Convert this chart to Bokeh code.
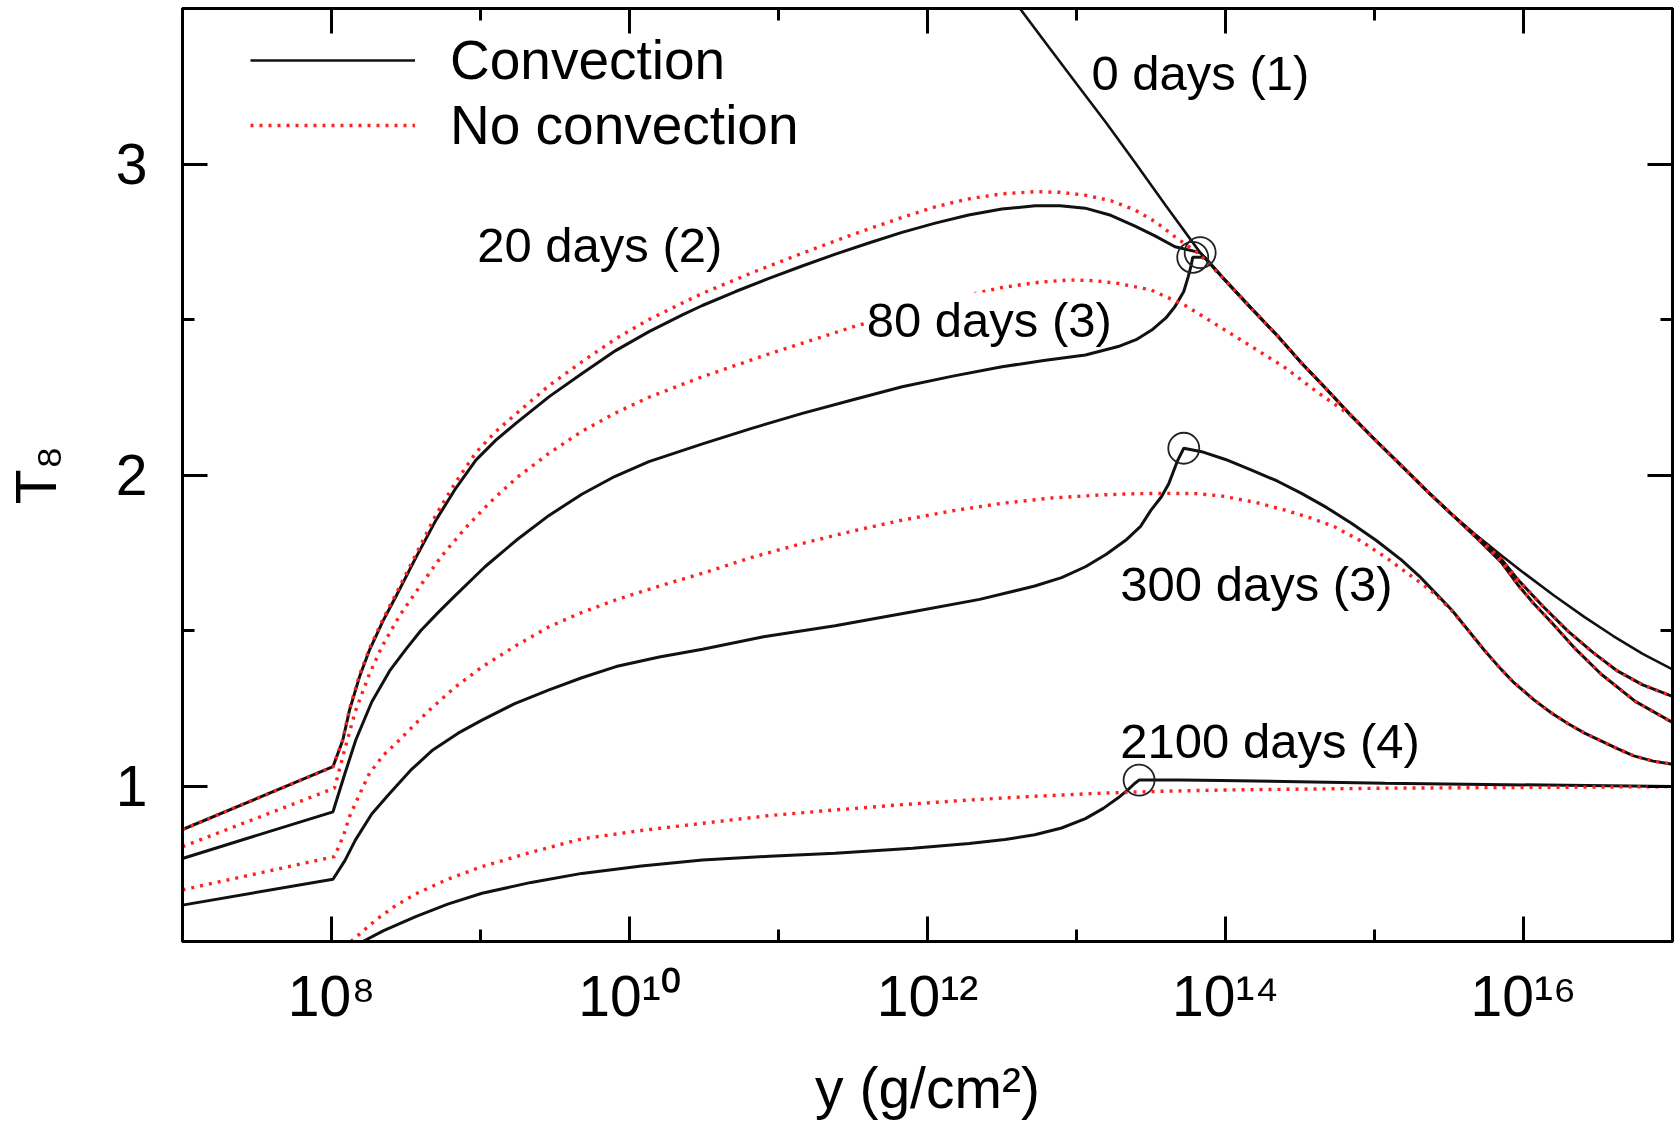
import numpy as np
from bokeh.plotting import figure
from bokeh.models import LogAxis, LinearAxis, FixedTicker, Label, Legend, LegendItem
from bokeh.embed import file_html
from bokeh.resources import INLINE

FONT = "Liberation Sans"

# ---- data: log10(y [g/cm^2]) and T8 ----
# shared high-column-depth branch (0, 20 and 80 days merge onto it)
lg_bundle = [14.00, 14.175, 14.35, 14.51, 14.68, 14.845, 15.01, 15.18, 15.36, 15.515]
T_bundle = [2.625, 2.535, 2.447, 2.36, 2.275, 2.19, 2.11, 2.03, 1.945, 1.875]

lg_c0 = [12.62, 12.80, 13.00, 13.20, 13.40, 13.60, 13.83] + lg_bundle + [15.68, 15.85, 16.00, 16.20, 16.41, 16.60, 16.80, 17.0]
T_c0 = [3.50, 3.385, 3.258, 3.132, 3.00, 2.866, 2.715] + T_bundle + [1.808, 1.742, 1.686, 1.614, 1.543, 1.483, 1.425, 1.375]

lg_tail20 = [15.68, 15.85, 15.96, 16.13, 16.30, 16.47, 16.63, 16.80, 17.0]
T_tail20 = [1.805, 1.73, 1.665, 1.578, 1.497, 1.428, 1.37, 1.325, 1.288]
lg_tail80 = [15.68, 15.85, 15.96, 16.07, 16.19, 16.35, 16.52, 16.75, 17.0]
T_tail80 = [1.80, 1.72, 1.648, 1.586, 1.525, 1.44, 1.36, 1.272, 1.204]

lg_c20 = ([7.0, 8.01, 8.076, 8.121, 8.188, 8.255, 8.345, 8.433, 8.567, 8.701, 8.835, 8.969, 9.103, 9.237,
           9.461, 9.684, 9.907, 10.131, 10.355, 10.489, 10.712, 10.936, 11.159, 11.382, 11.606, 11.829,
           12.052, 12.276, 12.499, 12.723, 12.89, 13.058, 13.23, 13.393, 13.53, 13.661, 13.83]
          + lg_bundle + lg_tail20)
T_c20 = ([0.86, 1.062, 1.148, 1.244, 1.351, 1.437, 1.53, 1.61, 1.735, 1.855, 1.958, 2.048, 2.112, 2.166,
          2.252, 2.327, 2.40, 2.461, 2.515, 2.545, 2.59, 2.632, 2.672, 2.71, 2.746, 2.78,
          2.81, 2.836, 2.855, 2.866, 2.866, 2.858, 2.835, 2.80, 2.768, 2.734, 2.715]
         + T_bundle + T_tail20)

lg_n20 = ([7.0, 8.01, 8.076, 8.121, 8.188, 8.255, 8.345, 8.433, 8.567, 8.701, 8.835, 8.969, 9.103, 9.237,
           9.461, 9.684, 9.907, 10.131, 10.355, 10.489, 10.82, 11.159, 11.49, 11.829, 12.05, 12.276,
           12.50, 12.723, 12.89, 13.058, 13.23, 13.393, 13.53, 13.661, 13.82]
          + lg_bundle + lg_tail20)
T_n20 = ([0.86, 1.062, 1.15, 1.248, 1.356, 1.442, 1.536, 1.618, 1.745, 1.872, 1.978, 2.072, 2.14, 2.196,
          2.288, 2.365, 2.438, 2.50, 2.553, 2.584, 2.65, 2.713, 2.772, 2.828, 2.862, 2.888,
          2.904, 2.911, 2.909, 2.90, 2.882, 2.852, 2.814, 2.766, 2.712]
         + T_bundle + T_tail20)

lg_c80 = ([7.0, 8.01, 8.09, 8.163, 8.27, 8.39, 8.50, 8.60, 8.72, 8.83, 9.03, 9.24, 9.46, 9.68, 9.90,
           10.13, 10.49, 10.82, 11.16, 11.5, 11.83, 12.17, 12.5, 12.78, 13.06, 13.28, 13.40, 13.505,
           13.60, 13.66, 13.72, 13.75, 13.77, 13.78, 13.86]
          + lg_bundle + lg_tail80)
T_c80 = ([0.767, 0.917, 1.04, 1.148, 1.27, 1.37, 1.44, 1.50, 1.56, 1.612, 1.705, 1.79, 1.87, 1.938, 1.995,
          2.043, 2.10, 2.15, 2.198, 2.242, 2.284, 2.318, 2.348, 2.368, 2.386, 2.413, 2.435, 2.466,
          2.505, 2.541, 2.59, 2.638, 2.675, 2.70, 2.70]
         + T_bundle + T_tail80)

lg_n80 = ([7.0, 8.02, 8.09, 8.16, 8.25, 8.34, 8.46, 8.59, 8.74, 8.90, 9.07, 9.24, 9.46, 9.68, 9.90, 10.13,
           10.49, 10.94, 11.2, 11.505, 11.85, 12.22, 12.5, 12.75, 12.95, 13.12, 13.28, 13.50, 13.73,
           13.95, 14.175, 14.40, 14.62, 14.845, 15.01, 15.18, 15.36, 15.515] + lg_tail80)
T_n80 = ([0.805, 0.993, 1.12, 1.24, 1.355, 1.45, 1.55, 1.64, 1.74, 1.83, 1.915, 1.99, 2.07, 2.14, 2.198, 2.25,
          2.316, 2.39, 2.43, 2.477, 2.525, 2.573, 2.603, 2.62, 2.627, 2.625, 2.616, 2.595, 2.545,
          2.48, 2.413, 2.345, 2.265, 2.19, 2.11, 2.03, 1.945, 1.875] + T_tail80)

lg_c300 = [7.0, 8.01, 8.09, 8.16, 8.27, 8.39, 8.53, 8.68, 8.85, 9.01, 9.23, 9.46, 9.68, 9.91, 10.2, 10.49,
           10.9, 11.38, 11.9, 12.35, 12.72, 12.9, 13.06, 13.2, 13.33, 13.43, 13.50, 13.57, 13.62, 13.68,
           13.72, 13.84, 14.0, 14.175, 14.35, 14.51, 14.68, 14.845, 15.01, 15.18, 15.30, 15.40, 15.52,
           15.63, 15.74, 15.85, 15.93, 16.07, 16.19, 16.30, 16.41, 16.52, 16.63, 16.74, 16.87, 17.0]
T_c300 = [0.617, 0.70, 0.76, 0.826, 0.91, 0.976, 1.05, 1.116, 1.17, 1.212, 1.265, 1.309, 1.348, 1.384, 1.415,
          1.44, 1.48, 1.515, 1.56, 1.60, 1.643, 1.67, 1.705, 1.745, 1.79, 1.835, 1.887, 1.93, 1.973, 2.048,
          2.086, 2.075, 2.05, 2.016, 1.98, 1.941, 1.895, 1.845, 1.79, 1.727, 1.675, 1.625, 1.565,
          1.50, 1.435, 1.375, 1.335, 1.277, 1.234, 1.20, 1.17, 1.145, 1.12, 1.097, 1.08, 1.07]

lg_n300 = [7.0, 8.02, 8.08, 8.12, 8.19, 8.255, 8.35, 8.456, 8.557, 8.657, 8.83, 9.014, 9.24, 9.46, 9.68,
           9.906, 10.2, 10.49, 10.82, 11.16, 11.5, 11.83, 12.17, 12.5, 12.83, 13.17, 13.4, 13.62, 13.8,
           13.97, 14.2, 14.40, 14.57, 14.73, 14.90, 15.07, 15.19, 15.29, 15.40, 15.52,
           15.63, 15.74, 15.85, 15.93, 16.07, 16.19, 16.30, 16.41, 16.52, 16.63, 16.74, 16.87, 17.0]
T_n300 = [0.666, 0.773, 0.84, 0.901, 0.975, 1.041, 1.10, 1.148, 1.197, 1.244, 1.318, 1.384, 1.452, 1.512,
          1.558, 1.598, 1.643, 1.684, 1.735, 1.78, 1.82, 1.855, 1.885, 1.909, 1.926, 1.936, 1.94, 1.941,
          1.94, 1.933, 1.912, 1.887, 1.862, 1.834, 1.79, 1.737, 1.695, 1.66, 1.62, 1.563,
          1.50, 1.435, 1.375, 1.335, 1.277, 1.234, 1.20, 1.17, 1.145, 1.12, 1.097, 1.08, 1.07]

lg_c2100 = [8.21, 8.35, 8.565, 8.78, 9.01, 9.34, 9.68, 10.08, 10.49, 10.94, 11.38, 11.9, 12.28, 12.52,
            12.72, 12.9, 13.06, 13.18, 13.28, 13.35, 13.39, 13.42, 13.7, 13.97, 15.07, 17.0]
T_c2100 = [0.50, 0.535, 0.58, 0.62, 0.655, 0.69, 0.719, 0.743, 0.762, 0.774, 0.784, 0.80, 0.815, 0.828,
           0.843, 0.865, 0.895, 0.928, 0.962, 0.99, 1.008, 1.019, 1.019, 1.018, 1.009, 0.998]

lg_n2100 = [8.13, 8.30, 8.43, 8.565, 8.78, 9.01, 9.34, 9.68, 10.08, 10.49, 10.94, 11.38, 11.83, 12.28,
            12.72, 13.17, 13.57, 13.97, 15.07, 17.0]
T_n2100 = [0.50, 0.57, 0.615, 0.653, 0.70, 0.741, 0.787, 0.83, 0.857, 0.88, 0.905, 0.923, 0.94, 0.955,
           0.967, 0.977, 0.983, 0.987, 0.993, 0.998]

# convective boundary markers (20, 80, 300, 2100 days)
lg_circ = [13.83, 13.78, 13.72, 13.42]
T_circ = [2.715, 2.70, 2.086, 1.019]

x_major = [1e8, 1e10, 1e12, 1e14, 1e16]
x_minor = [1e7, 1e9, 1e11, 1e13, 1e15, 1e17]
x_labels = ["10⁸", "10¹⁰", "10¹²", "10¹⁴", "10¹⁶"]
y_major = [1, 2, 3]
y_minor = [0.5, 1.5, 2.5, 3.5]

labels = ["0 days (1)", "20 days (2)", "80 days (3)", "300 days (3)", "2100 days (4)"]
label_lg = [13.10, 8.978, 11.592, 13.294, 13.294]
label_T = [3.293, 2.74, 2.50, 1.648, 1.144]

# ---- figure ----
p = figure(width=1675, height=1127, x_axis_type="log", x_range=(1e7, 1e17), y_range=(0.5, 3.5),
           output_backend="svg", toolbar_location=None,
           min_border_left=180, min_border_right=3, min_border_top=8, min_border_bottom=186)
p.grid.visible = False
p.outline_line_color = "black"
p.outline_line_width = 3
p.background_fill_color = "white"
p.border_fill_color = "white"

BLACK = "#111111"
RED = "#ff2020"
LW = 3.0


def X(lg):
    return 10.0 ** np.asarray(lg)


r_c0 = p.line(X(lg_c0), T_c0, line_color=BLACK, line_width=2.6)
r_c20 = p.line(X(lg_c20), T_c20, line_color=BLACK, line_width=LW)
r_c80 = p.line(X(lg_c80), T_c80, line_color=BLACK, line_width=LW)
r_c300 = p.line(X(lg_c300), T_c300, line_color=BLACK, line_width=LW)
r_c2100 = p.line(X(lg_c2100), T_c2100, line_color=BLACK, line_width=LW)

red_kw = dict(line_color=RED, line_width=3.4, line_dash="3 6")
r_n20 = p.line(X(lg_n20), T_n20, **red_kw)
r_n80 = p.line(X(lg_n80), T_n80, **red_kw)
r_n300 = p.line(X(lg_n300), T_n300, **red_kw)
r_n2100 = p.line(X(lg_n2100), T_n2100, **red_kw)

p.scatter(X(lg_circ), T_circ, marker="circle", size=31, fill_color=None,
          line_color="#222222", line_width=1.8)

# ---- axes ----
tick_style = dict(axis_line_width=3, major_tick_line_width=3, minor_tick_line_width=3,
                  major_tick_in=25, major_tick_out=0, minor_tick_in=12, minor_tick_out=0,
                  axis_line_color="black", major_tick_line_color="black", minor_tick_line_color="black")

xa = p.xaxis[0]
xa.ticker = FixedTicker(ticks=x_major, minor_ticks=x_minor)
xa.major_label_overrides = {v: s for v, s in zip(x_major, x_labels)}
xa.major_label_text_font = FONT
xa.major_label_text_font_size = "57px"
xa.major_label_text_color = "black"
xa.major_label_standoff = 22
xa.axis_label = "y (g/cm²)"
xa.axis_label_text_font = FONT
xa.axis_label_text_font_size = "57px"
xa.axis_label_text_font_style = "normal"
xa.axis_label_text_color = "black"
xa.axis_label_standoff = 25
for k, v in tick_style.items():
    setattr(xa, k, v)

ya = p.yaxis[0]
ya.ticker = FixedTicker(ticks=y_major, minor_ticks=y_minor)
ya.major_label_text_font = FONT
ya.major_label_text_font_size = "57px"
ya.major_label_text_color = "black"
ya.major_label_standoff = 35
ya.axis_label = "T₈"
ya.axis_label_text_font = FONT
ya.axis_label_text_font_size = "57px"
ya.axis_label_text_font_style = "normal"
ya.axis_label_text_color = "black"
ya.axis_label_standoff = 45
for k, v in tick_style.items():
    setattr(ya, k, v)

top = LogAxis(ticker=FixedTicker(ticks=x_major, minor_ticks=x_minor),
              major_label_overrides={v: "" for v in x_major},
              major_label_text_font_size="1px", major_label_standoff=0, **tick_style)
p.add_layout(top, "above")
right = LinearAxis(ticker=FixedTicker(ticks=y_major, minor_ticks=y_minor),
                   major_label_overrides={v: "" for v in y_major},
                   major_label_text_font_size="1px", major_label_standoff=0, **tick_style)
p.add_layout(right, "right")

# ---- curve labels ----
for txt, lg, t in zip(labels, label_lg, label_T):
    kw = {}
    if txt.startswith("80"):
        kw = dict(background_fill_color="white", background_fill_alpha=1.0)
    p.add_layout(Label(x=10.0 ** lg, y=t, text=txt, text_font=FONT, text_font_size="49px",
                       text_color="black", text_align="left", text_baseline="alphabetic", **kw))

# ---- legend (one box per entry so the row spacing can be set) ----
leg_style = dict(orientation="vertical", label_text_font=FONT, label_text_font_size="55px",
                 label_text_color="black", glyph_width=165, glyph_height=64, label_height=64,
                 label_standoff=35, spacing=0, padding=0, margin=0,
                 background_fill_alpha=0, border_line_alpha=0)
leg1 = Legend(items=[LegendItem(label="Convection", renderers=[r_c0])], location=(68, 849), **leg_style)
leg2 = Legend(items=[LegendItem(label="No convection", renderers=[r_n20])], location=(68, 784), **leg_style)
p.add_layout(leg1)
p.add_layout(leg2)

open("out.html", "w").write(file_html(p, INLINE))
